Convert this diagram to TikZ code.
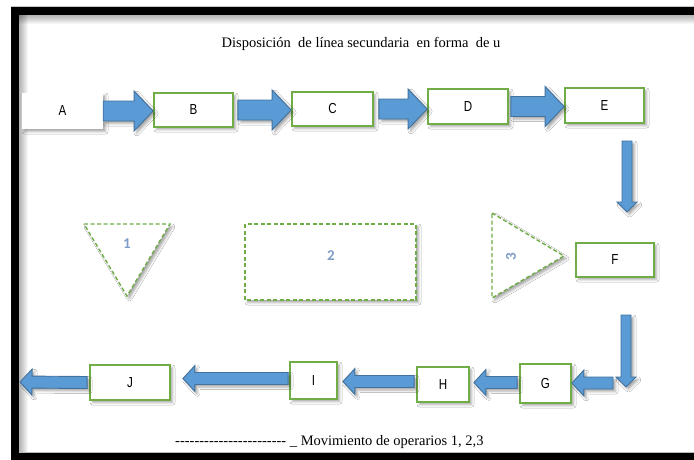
\documentclass[tikz,border=0pt]{standalone}
\usepackage{fontspec}
\setmainfont{Liberation Serif}
\newfontfamily\boxfont[FakeStretch=0.8]{Liberation Sans}
\newfontfamily\numfont{Carlito}
\usetikzlibrary{calc,shadows.blur}

\definecolor{boxgreen}{HTML}{70AD47}
\definecolor{arrowfill}{HTML}{5B9BD5}
\definecolor{arrowedge}{HTML}{41719C}
\definecolor{numblue}{HTML}{7F9DC9}

% a hyphen that never joins its neighbour into a dash ligature
\newcommand\hh{-\kern0pt}

% block arrow from #1 (tail) to #2 (tip); #3 shaft half width,
% #4 head half width, #5 head length (all in pt)
\newcommand\blockarrow[5]{%
  \path[arrowbody] let \p1=(#1), \p2=(#2),
      \n1={veclen(\x2-\x1,\y2-\y1)},
      \n2={(\x2-\x1)/\n1}, \n3={(\y2-\y1)/\n1}
    in ({\x1-\n3*#3},{\y1+\n2*#3})
    -- ({\x2-\n2*#5-\n3*#3},{\y2-\n3*#5+\n2*#3})
    -- ({\x2-\n2*#5-\n3*#4},{\y2-\n3*#5+\n2*#4})
    -- (\p2)
    -- ({\x2-\n2*#5+\n3*#4},{\y2-\n3*#5-\n2*#4})
    -- ({\x2-\n2*#5+\n3*#3},{\y2-\n3*#5-\n2*#3})
    -- ({\x1+\n3*#3},{\y1-\n2*#3})
    -- cycle;}

\tikzset{
  softshadow/.style={blur shadow={shadow xshift=2.5pt, shadow yshift=-2.5pt,
      shadow blur radius=2.5pt, shadow opacity=35}},
  station/.style={draw=boxgreen, line width=1.8pt, fill=white, inner sep=0pt,
      font=\boxfont\fontsize{14.5}{16}\selectfont, softshadow},
  plainstation/.style={fill=white, inner sep=0pt,
      font=\boxfont\fontsize{14.5}{16}\selectfont, softshadow},
  arrowbody/.style={fill=arrowfill, draw=arrowedge, line width=0.9pt,
      line join=miter, softshadow},
  zone/.style={draw=boxgreen, line width=1.4pt, dash pattern=on 4pt off 2.5pt,
      fill=white, softshadow},
  numlabel/.style={font=\numfont\bfseries\fontsize{15}{16}\selectfont,
      text=numblue, inner sep=0pt},
  caption/.style={font=\fontsize{14.5}{16}\selectfont, inner sep=0pt}
}

\begin{document}
\begin{tikzpicture}[x=1pt,y=-1pt]
\useasboundingbox (0,0) rectangle (694,459);

% frame
\fill[gray!45] (11,6) rectangle (700,470);
\fill[black] (11,7) rectangle (700,470);
\fill[white] (19,15) rectangle (700,453);
\foreach \i in {1,...,9}{
  \fill[black, fill opacity=0.035] (19,15) rectangle (700,15+\i);
  \fill[black, fill opacity=0.035] (19,15) rectangle (19+\i,453);
}
\fill[gray!55] (19,452) rectangle (700,453.2);

% title
\node[caption] (title) at (361,44)
  {Disposición\ \ de línea secundaria\ \ en forma\ \ de u};

% upper line of stations
\node[plainstation, minimum width=81pt, minimum height=36pt] (A) at (62.5,111) {A};
\node[station, minimum width=79pt, minimum height=34pt] (B) at (193.5,110) {B};
\node[station, minimum width=81pt, minimum height=34pt] (C) at (332.5,109) {C};
\node[station, minimum width=80pt, minimum height=35pt] (D) at (468,106.5) {D};
\node[station, minimum width=79pt, minimum height=35pt] (E) at (604.5,105.5) {E};

\blockarrow{A.east}{B.west |- A.east}{10}{20}{19}
\blockarrow{$(B.east)+(4,0)$}{C.west |- B.east}{10}{20}{19}
\blockarrow{$(C.east)+(5,0)$}{D.west |- C.east}{10}{20}{19}
\blockarrow{$(D.east)+(2,0)$}{E.west |- D.east}{10}{20}{19}

% operator zones
\draw[zone] (84,224) -- (170,224) -- (127,296) -- cycle;
\node[numlabel] (n1) at (127,244) {1};
\draw[zone] (245,224) rectangle (416,300);
\node[numlabel] (n2) at (331,256) {2};
\draw[zone] (492,213) -- (564,256) -- (492,298) -- cycle;
\node[numlabel, rotate=90] (n3) at (511,257) {3};

% right-hand turn
\node[station, minimum width=78pt, minimum height=34pt] (F) at (615,260) {F};
\coordinate (e1) at (627,141);
\coordinate (e2) at (627,212);
\coordinate (f1) at (626,315);
\coordinate (f2) at (626,387);
\blockarrow{e1}{e2}{5}{10}{10}
\blockarrow{f1}{f2}{5}{10}{10}

% lower line of stations
\node[station, minimum width=51pt, minimum height=39pt] (G) at (545.5,383.5) {G};
\node[station, minimum width=52pt, minimum height=35pt] (H) at (443,384.5) {H};
\node[station, minimum width=47pt, minimum height=37pt] (I) at (313.5,380.5) {I};
\node[station, minimum width=80pt, minimum height=35pt] (J) at (130,382.5) {J};

\coordinate (g0) at (613,383);
\coordinate (out) at (20,382);
\blockarrow{g0}{G.east |- g0}{6}{13}{12}
\blockarrow{$(G.west)+(-2,-1)$}{$(H.east)+(4,-2)$}{6}{13}{12}
\blockarrow{$(H.west)+(-2,-3)$}{$(I.east)+(5,1)$}{6}{13}{12}
\blockarrow{$(I.west)+(-1,-2)$}{$(J.east)+(12,-4)$}{6}{13}{12}
\blockarrow{$(J.west)+(-2,0)$}{out}{6}{13}{12}

% legend
\node[caption, anchor=base west] (legend) at (175,445)
  {\hh\hh\hh\hh\hh\hh\hh\hh\hh\hh\hh\hh\hh\hh\hh\hh\hh\hh\hh\hh\hh\hh\hh\ \_\ Movimiento de operarios 1, 2,3};
\end{tikzpicture}
\end{document}
